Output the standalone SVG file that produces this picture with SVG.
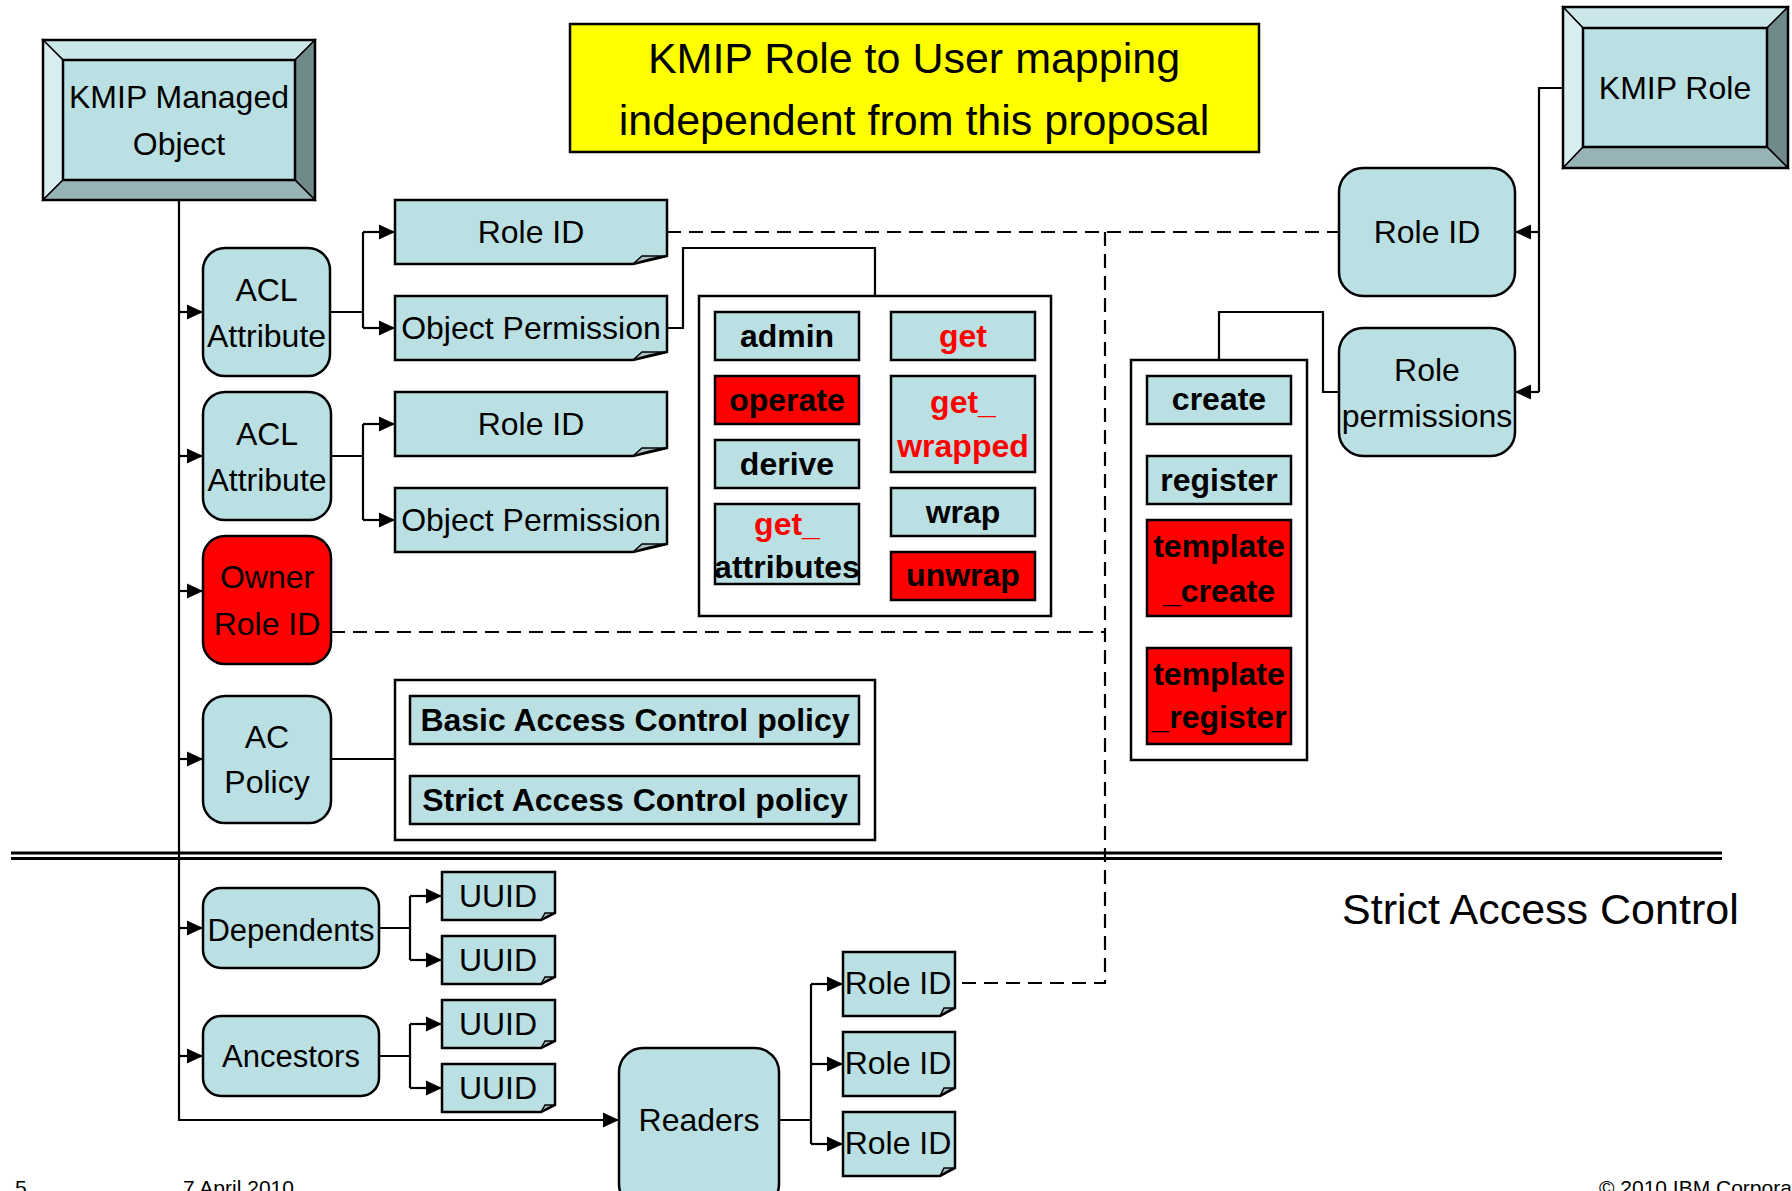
<svg xmlns="http://www.w3.org/2000/svg" width="1792" height="1191" viewBox="0 0 1792 1191">
  <defs>
    <style>
      .n { fill: #bbe0e3; stroke: #000; stroke-width: 2.5; }
      .rd { fill: #ff0000; stroke: #000; stroke-width: 2.5; }
      .w { fill: #fff; stroke: #000; stroke-width: 2.5; }
      .fold { fill: #a6c2c6; stroke: #000; stroke-width: 1.5; }
      .bv { stroke: #000; stroke-width: 1.5; }
      .t { font-family: "Liberation Sans", Arial, Helvetica, sans-serif; font-size: 32px; text-anchor: middle; fill: #000; }
      .b { font-weight: bold; font-size: 32px; }
      .big { font-size: 43px; }
      .s31 { font-size: 31px; }
      .start { text-anchor: start; }
      .red { fill: #ff0000; }
      .c { fill: none; stroke: #000; stroke-width: 2.2; }
      .d { fill: none; stroke: #000; stroke-width: 2.2; stroke-dasharray: 14 8; }
      .a { marker-end: url(#ah); }
      .foot { font-family: "Liberation Sans", Arial, Helvetica, sans-serif; font-size: 21px; fill: #000; }
    </style>
    <marker id="ah" markerWidth="16" markerHeight="16" refX="16" refY="8" orient="auto" markerUnits="userSpaceOnUse">
      <path d="M0,0.5 L16,8 L0,15.5 Z" fill="#000"/>
    </marker>
  </defs>

  <rect width="1792" height="1191" fill="#fff"/>

  <!-- title note -->
  <g id="title-note">
    <rect x="570" y="24" width="689" height="128" fill="#ffff00" stroke="#000" stroke-width="2.5"/>
    <text class="t big" x="914" y="73">KMIP Role to User mapping</text>
    <text class="t big" x="914" y="135">independent from this proposal</text>
  </g>

  <!-- section separator -->
  <g id="separator">
    <line x1="11" y1="853" x2="1722" y2="853" stroke="#000" stroke-width="3"/>
    <line x1="11" y1="858.5" x2="1722" y2="858.5" stroke="#000" stroke-width="3"/>
  </g>

  <!-- connectors -->
  <g id="connectors">
    <!-- managed object trunk -->
    <path class="c a" d="M179,200 V1120 H619"/>
    <path class="c a" d="M179,312 H203"/>
    <path class="c a" d="M179,456 H203"/>
    <path class="c a" d="M179,591 H203"/>
    <path class="c a" d="M179,759 H203"/>
    <path class="c a" d="M179,928 H203"/>
    <path class="c a" d="M179,1056 H203"/>
    <!-- ACL attribute 1 -->
    <path class="c" d="M330,312 H363 M363,232 V328"/>
    <path class="c a" d="M363,232 H395"/>
    <path class="c a" d="M363,328 H395"/>
    <!-- ACL attribute 2 -->
    <path class="c" d="M331,456 H363 M363,424 V520"/>
    <path class="c a" d="M363,424 H395"/>
    <path class="c a" d="M363,520 H395"/>
    <!-- AC policy -->
    <path class="c" d="M331,759 H395"/>
    <!-- object permission to permission set -->
    <path class="c" d="M667,328 H683 V248 H875 V296"/>
    <!-- dependents / ancestors -->
    <path class="c" d="M379,928 H410 M410,896 V960"/>
    <path class="c a" d="M410,896 H442"/>
    <path class="c a" d="M410,960 H442"/>
    <path class="c" d="M379,1056 H410 M410,1024 V1088"/>
    <path class="c a" d="M410,1024 H442"/>
    <path class="c a" d="M410,1088 H442"/>
    <!-- readers -->
    <path class="c" d="M779,1120 H811 M811,984 V1144"/>
    <path class="c a" d="M811,984 H843"/>
    <path class="c a" d="M811,1064 H843"/>
    <path class="c a" d="M811,1144 H843"/>
    <!-- KMIP role -->
    <path class="c" d="M1563,88 H1539 V392"/>
    <path class="c a" d="M1539,232 H1515"/>
    <path class="c a" d="M1539,392 H1515"/>
    <path class="c" d="M1339,392 H1323 V312 H1219 V360"/>
    <!-- role id references -->
    <path class="d" d="M667,232 H1339"/>
    <path class="d" d="M1105,232 V983 H955"/>
    <path class="d" d="M331,632 H1105"/>
  </g>

  <!-- KMIP Managed Object -->
  <g id="kmip-managed-object">
    <polygon class="bv" points="43,40 315,40 295,60 63,60" fill="#cbe6e9"/>
    <polygon class="bv" points="43,40 63,60 63,180 43,200" fill="#d9eef0"/>
    <polygon class="bv" points="315,40 315,200 295,180 295,60" fill="#708a8c"/>
    <polygon class="bv" points="43,200 63,180 295,180 315,200" fill="#98b3b5"/>
    <rect class="n" x="63" y="60" width="232" height="120" stroke-width="2"/>
    <rect x="43" y="40" width="272" height="160" fill="none" stroke="#000" stroke-width="2.5"/>
    <text class="t" x="179" y="108">KMIP Managed</text>
    <text class="t" x="179" y="155">Object</text>
  </g>

  <!-- KMIP Role -->
  <g id="kmip-role">
    <polygon class="bv" points="1563,7 1788,7 1767,28 1583,28" fill="#cbe6e9"/>
    <polygon class="bv" points="1563,7 1583,28 1583,147 1563,168" fill="#d9eef0"/>
    <polygon class="bv" points="1788,7 1788,168 1767,147 1767,28" fill="#708a8c"/>
    <polygon class="bv" points="1563,168 1583,147 1767,147 1788,168" fill="#98b3b5"/>
    <rect class="n" x="1583" y="28" width="184" height="119" stroke-width="2"/>
    <rect x="1563" y="7" width="225" height="161" fill="none" stroke="#000" stroke-width="2.5"/>
    <text class="t" x="1675" y="99">KMIP Role</text>
  </g>

  <!-- ACL attribute 1 -->
  <g id="acl-attribute-1">
    <rect class="n" x="203" y="248" width="127" height="128" rx="22"/>
    <text class="t" x="266.5" y="301">ACL</text>
    <text class="t" x="266.5" y="347">Attribute</text>
  </g>
  <g id="role-id-1">
    <path class="n" d="M395,200 H667 V256 L633,264 H395 Z"/>
    <path class="fold" d="M633,264 L642,256 H667 Q650,258 633,264 Z"/>
    <text class="t" x="531" y="243">Role ID</text>
  </g>
  <g id="object-permission-1">
    <path class="n" d="M395,296 H667 V352 L633,360 H395 Z"/>
    <path class="fold" d="M633,360 L642,352 H667 Q650,354 633,360 Z"/>
    <text class="t" x="531" y="339">Object Permission</text>
  </g>

  <!-- ACL attribute 2 -->
  <g id="acl-attribute-2">
    <rect class="n" x="203" y="392" width="128" height="128" rx="22"/>
    <text class="t" x="267" y="445">ACL</text>
    <text class="t" x="267" y="491">Attribute</text>
  </g>
  <g id="role-id-2">
    <path class="n" d="M395,392 H667 V448 L633,456 H395 Z"/>
    <path class="fold" d="M633,456 L642,448 H667 Q650,450 633,456 Z"/>
    <text class="t" x="531" y="435">Role ID</text>
  </g>
  <g id="object-permission-2">
    <path class="n" d="M395,488 H667 V544 L633,552 H395 Z"/>
    <path class="fold" d="M633,552 L642,544 H667 Q650,546 633,552 Z"/>
    <text class="t" x="531" y="531">Object Permission</text>
  </g>

  <!-- Owner Role ID -->
  <g id="owner-role-id">
    <rect class="rd" x="203" y="536" width="128" height="128" rx="22"/>
    <text class="t" x="267" y="588">Owner</text>
    <text class="t" x="267" y="635">Role ID</text>
  </g>

  <!-- AC Policy -->
  <g id="ac-policy">
    <rect class="n" x="203" y="696" width="128" height="127" rx="22"/>
    <text class="t" x="267" y="748">AC</text>
    <text class="t" x="267" y="793">Policy</text>
  </g>
  <g id="policy-set">
    <rect class="w" x="395" y="680" width="480" height="160"/>
    <rect class="n" x="410" y="696" width="449" height="48"/>
    <text class="t b" x="635" y="731">Basic Access Control policy</text>
    <rect class="n" x="410" y="776" width="449" height="48"/>
    <text class="t b" x="635" y="811">Strict Access Control policy</text>
  </g>

  <!-- object permission set -->
  <g id="object-permission-set">
    <rect class="w" x="699" y="296" width="352" height="320"/>
    <rect class="n" x="715" y="312" width="144" height="48"/>
    <text class="t b" x="787" y="347">admin</text>
    <rect class="rd" x="715" y="376" width="144" height="48"/>
    <text class="t b" x="787" y="411">operate</text>
    <rect class="n" x="715" y="440" width="144" height="48"/>
    <text class="t b" x="787" y="475">derive</text>
    <rect class="n" x="715" y="504" width="144" height="80"/>
    <text class="t b red" x="787" y="535">get_</text>
    <text class="t b" x="787" y="578">attributes</text>
    <rect class="n" x="891" y="312" width="144" height="48"/>
    <text class="t b red" x="963" y="347">get</text>
    <rect class="n" x="891" y="376" width="144" height="96"/>
    <text class="t b red" x="963" y="413">get_</text>
    <text class="t b red" x="963" y="457">wrapped</text>
    <rect class="n" x="891" y="488" width="144" height="48"/>
    <text class="t b" x="963" y="523">wrap</text>
    <rect class="rd" x="891" y="552" width="144" height="48"/>
    <text class="t b" x="963" y="586">unwrap</text>
  </g>

  <!-- role side -->
  <g id="role-id-right">
    <rect class="n" x="1339" y="168" width="176" height="128" rx="24"/>
    <text class="t" x="1427" y="243">Role ID</text>
  </g>
  <g id="role-permissions">
    <rect class="n" x="1339" y="328" width="176" height="128" rx="24"/>
    <text class="t" x="1427" y="381">Role</text>
    <text class="t" x="1427" y="427">permissions</text>
  </g>
  <g id="role-permission-set">
    <rect class="w" x="1131" y="360" width="176" height="400"/>
    <rect class="n" x="1147" y="376" width="144" height="48"/>
    <text class="t b" x="1219" y="410">create</text>
    <rect class="n" x="1147" y="456" width="144" height="48"/>
    <text class="t b" x="1219" y="491">register</text>
    <rect class="rd" x="1147" y="520" width="144" height="96"/>
    <text class="t b" x="1219" y="557">template</text>
    <text class="t b" x="1219" y="602">_create</text>
    <rect class="rd" x="1147" y="648" width="144" height="96"/>
    <text class="t b" x="1219" y="685">template</text>
    <text class="t b" x="1219" y="728">_register</text>
  </g>

  <!-- strict access control part -->
  <text class="t big start" x="1342" y="924">Strict Access Control</text>

  <g id="dependents">
    <rect class="n" x="203" y="888" width="176" height="80" rx="18"/>
    <text class="t s31" x="291" y="941">Dependents</text>
  </g>
  <g id="ancestors">
    <rect class="n" x="203" y="1016" width="176" height="80" rx="18"/>
    <text class="t s31" x="291" y="1067">Ancestors</text>
  </g>
  <g id="uuid-1">
    <path class="n" d="M442,872 H555 V913 L541,920 H442 Z"/>
    <path class="fold" d="M541,920 L545,913 H555 Q548,915 541,920 Z"/>
    <text class="t" x="498" y="907">UUID</text>
  </g>
  <g id="uuid-2">
    <path class="n" d="M442,936 H555 V977 L541,984 H442 Z"/>
    <path class="fold" d="M541,984 L545,977 H555 Q548,979 541,984 Z"/>
    <text class="t" x="498" y="971">UUID</text>
  </g>
  <g id="uuid-3">
    <path class="n" d="M442,1000 H555 V1041 L541,1048 H442 Z"/>
    <path class="fold" d="M541,1048 L545,1041 H555 Q548,1043 541,1048 Z"/>
    <text class="t" x="498" y="1035">UUID</text>
  </g>
  <g id="uuid-4">
    <path class="n" d="M442,1064 H555 V1105 L541,1112 H442 Z"/>
    <path class="fold" d="M541,1112 L545,1105 H555 Q548,1107 541,1112 Z"/>
    <text class="t" x="498" y="1099">UUID</text>
  </g>
  <g id="readers">
    <rect class="n" x="619" y="1048" width="160" height="160" rx="24"/>
    <text class="t" x="699" y="1131">Readers</text>
  </g>
  <g id="reader-role-id-1">
    <path class="n" d="M843,952 H955 V1008 L940,1016 H843 Z"/>
    <path class="fold" d="M940,1016 L944,1008 H955 Q948,1010 940,1016 Z"/>
    <text class="t" x="898" y="994">Role ID</text>
  </g>
  <g id="reader-role-id-2">
    <path class="n" d="M843,1032 H955 V1088 L940,1096 H843 Z"/>
    <path class="fold" d="M940,1096 L944,1088 H955 Q948,1090 940,1096 Z"/>
    <text class="t" x="898" y="1074">Role ID</text>
  </g>
  <g id="reader-role-id-3">
    <path class="n" d="M843,1112 H955 V1168 L940,1176 H843 Z"/>
    <path class="fold" d="M940,1176 L944,1168 H955 Q948,1170 940,1176 Z"/>
    <text class="t" x="898" y="1154">Role ID</text>
  </g>

  <!-- footer -->
  <text class="foot" x="15" y="1195">5</text>
  <text class="foot" x="183" y="1195">7 April 2010</text>
  <text class="foot" x="1599" y="1195">© 2010 IBM Corporation</text>
</svg>
